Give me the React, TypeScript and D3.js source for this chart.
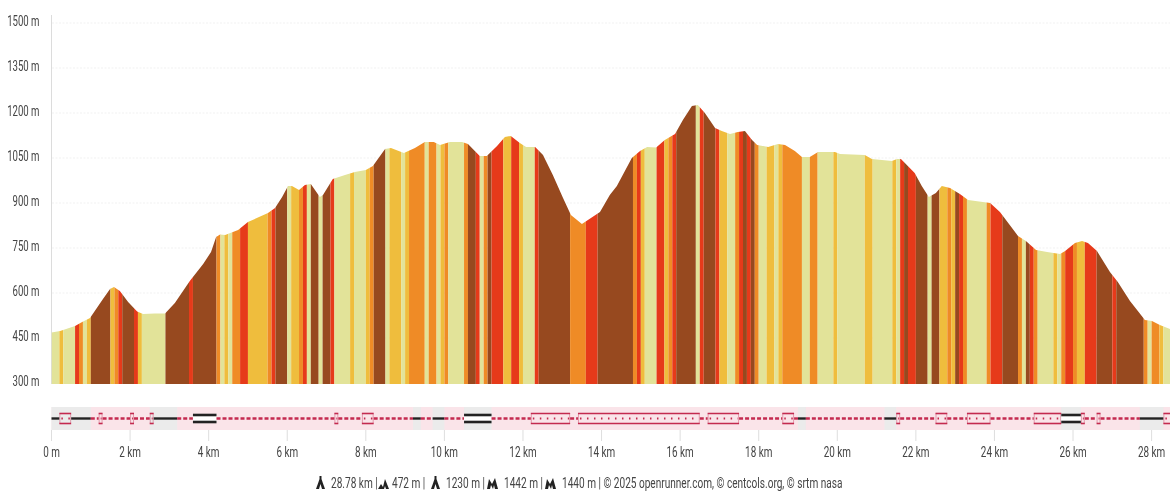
import React from "react";
import * as d3 from "d3";

// ---------- data ----------
const profileKm = [0,0.22,0.6,0.78,0.98,1.31,1.49,1.59,1.74,1.95,2.18,2.33,2.63,2.89,3.14,3.52,3.86,4.06,4.19,4.29,4.42,4.75,5.0,5.51,5.69,5.87,6.02,6.12,6.3,6.45,6.6,6.83,6.91,7.16,7.47,7.72,8.0,8.18,8.49,8.64,8.97,9.25,9.5,9.73,9.89,10.14,10.45,10.6,10.9,11.08,11.34,11.54,11.69,11.92,12.08,12.31,12.51,12.76,13.02,13.22,13.5,13.73,13.96,14.21,14.39,14.77,14.98,15.16,15.39,15.61,15.87,16.07,16.3,16.45,16.63,16.89,17.06,17.27,17.47,17.65,17.83,17.96,18.24,18.49,18.67,18.92,19.1,19.3,19.51,19.94,20.07,20.7,20.88,21.39,21.52,21.62,21.97,22.15,22.33,22.51,22.66,22.87,23.12,23.33,23.89,24.14,24.39,24.6,24.8,25.06,25.34,25.67,25.8,26.05,26.23,26.38,26.61,26.94,27.14,27.45,27.83,28.01,28.21,28.47,28.78];
const profileM = [472,477,493,507,520,583,617,623,610,573,542,533,535,535,570,643,700,740,790,798,797,813,840,870,887,923,960,960,947,963,967,923,930,983,997,1007,1013,1027,1083,1087,1070,1087,1107,1107,1097,1107,1107,1100,1060,1060,1093,1123,1127,1103,1090,1090,1063,997,920,863,833,853,873,930,960,1053,1077,1090,1088,1113,1133,1180,1227,1230,1203,1153,1143,1133,1140,1143,1113,1097,1090,1100,1097,1077,1057,1057,1073,1073,1067,1063,1050,1043,1050,1050,1003,960,923,937,960,953,933,913,903,873,830,793,777,747,740,733,743,770,777,770,743,673,640,577,513,510,497,483,472];

const bandEnds = [
  0.2,0.3,0.6,0.7,0.8,0.9,1.0,1.5,1.6,1.7,
  1.8,2.1,2.2,2.3,2.9,3.5,3.6,4.2,4.3,4.4,
  4.5,4.6,4.8,5.0,5.5,5.6,5.7,6.0,6.1,6.3,
  6.4,6.5,6.6,6.8,6.9,7.1,7.2,7.6,7.7,8.0,
  8.1,8.2,8.5,8.6,8.9,9.0,9.1,9.5,9.6,9.8,
  9.9,10.0,10.1,10.5,10.6,10.8,10.9,11.0,11.1,11.2,
  11.5,11.7,11.9,12.0,12.3,12.4,13.2,13.6,13.9,14.8,
  14.9,15.0,15.1,15.4,15.6,15.7,15.8,15.9,16.4,16.5,
  16.6,16.9,17.0,17.2,17.4,17.5,17.6,17.7,17.8,17.9,
  18.0,18.2,18.4,18.5,18.6,19.1,19.3,19.5,19.9,20.0,
  20.7,20.9,21.4,21.5,21.6,21.7,21.8,22.0,22.3,22.4,
  22.6,22.8,22.9,23.0,23.1,23.2,23.3,23.8,23.9,24.2,
  24.6,24.7,24.8,24.9,25.0,25.1,25.5,25.6,25.7,25.8,
  26.0,26.1,26.3,26.6,27.0,27.1,27.8,27.9,28.0,28.2,
  28.3,28.78,
];
const bandGrades = [
  "PYPROPYBYO",
  "RBRYPBRBOP",
  "YPORYORBPY",
  "ORPBPBRPYP",
  "YOBPYPYOPO",
  "PYOPOBRPOB",
  "RYRYPRBORB",
  "ORYPRYORBP",
  "RBRYPORBRB",
  "OPYPYOPOPY",
  "PYPYPRBRBP",
  "BYOYBROPOR",
  "BOPBROPYPO",
  "ROYRBRBOPO",
  "YP",
].join("").split("");
const gradeColors: Record<string, string> = { P: "#e2e399", Y: "#efbd3d", O: "#ef8b26", R: "#e63a1a", B: "#97491f" };

const trackEnds = [0.2,0.5,1.0,1.2,1.3,2.0,2.1,2.5,2.6,3.2,3.6,4.2,7.2,7.3,7.9,8.2,9.2,9.4,9.7,10.0,10.5,11.2,12.2,13.2,13.4,16.5,16.7,17.5,18.6,18.9,19.0,19.2,21.2,21.5,21.6,22.5,22.8,23.3,23.9,25.0,25.7,26.2,26.3,26.6,26.7,27.7,28.3,28.78];
const trackTypes = ["road","box","road","path","box","path","box","path","box","road","path","double","path","box","path","box","path","road","path","road","path","double","path","box","path","box","path","box","path","box","path","road","path","road","box","path","box","path","box","path","box","double","box","path","box","path","road","box"];
const greyStretches: [number, number][] = [[0,1.0],[2.5,3.2],[9.2,9.4],[9.7,10.0],[10.5,11.2],[19.0,19.2],[21.2,21.5],[25.7,26.2],[27.7,28.3]];

const elevationTicks = [300,450,600,750,900,1050,1200,1350,1500];
const distanceTicks = d3.range(0, 29, 2);
const formatDistance = (k: number) => (k === 0 ? "0 m" : `${k} km`);
const footerTexts = ["28.78 km |", "472 m |", "1230 m |", "1442 m |", "1440 m | © 2025 openrunner.com, © centcols.org, © srtm nasa"];

// ---------- layout ----------
const W = 1170, H = 491;
const x = d3.scaleLinear().domain([0, 28]).range([51.5, 1151.6]);
const y = d3.scaleLinear().domain([300, 1500]).range([384, 24]);
const profile = profileKm.map((k, i) => [k, profileM[i]] as [number, number]);
const areaPath = d3.area<[number, number]>().x((d) => x(d[0])).y0(y(300)).y1((d) => y(d[1])).curve(d3.curveLinear)(profile) as string;

const stripTop = 407, stripBottom = 430, mid = 418.5;
const font = "Roboto, sans-serif";
const textColor = "#444";
const crimson = "#c42a50";
const footerX = [331, 392, 446, 504, 562];

const Peak = ({ at, kind }: { at: number; kind: number }) => {
  const shapes = [
    "M0 13 L2.5 6 L3.5 3 L3.5 0 L5.5 0 L5.5 3 L6.5 6 L9 13 L6 13 L4.5 8 L3 13 Z",
    "M0 13 L3 8 L5 11 L7 3 L11 13 L8 13 L7 10 L6 13 Z",
    "M0 13 L2.5 6 L3.5 3 L3.5 0 L5.5 0 L5.5 3 L6.5 6 L9 13 L6 13 L4.5 8 L3 13 Z",
    "M0 13 L2 3 L5 8 L8 2 L11 13 L8 13 L7 9 L6 13 L4 9 L3 13 Z",
  ];
  return <path d={shapes[kind]} transform={`translate(${at},476)`} fill="#222" />;
};

const Label = ({ tx, ty, anchor, k = 0.64, children }: any) => (
  <text transform={`translate(${tx},${ty}) scale(${k},1)`} textAnchor={anchor} fontFamily={font} fontSize={15} fill={textColor}>{children}</text>
);

export default function App() {
  let prev = 0;
  const bands = bandEnds.map((end, i) => { const b = { a: prev, b: end, g: bandGrades[i] }; prev = end; return b; });
  prev = 0;
  const track = trackEnds.map((end, i) => { const s = { a: prev, b: end, t: trackTypes[i] }; prev = end; return s; });

  return (
    <svg width={W} height={H} viewBox={`0 0 ${W} ${H}`} style={{ position: "absolute", left: 0, top: 0, display: "block", background: "#fff" }}>
      <defs>
        <clipPath id="terrain"><path d={areaPath} /></clipPath>
        <clipPath id="top"><rect x={0} y={15} width={W} height={H} /></clipPath>
        <filter id="soft" x="-2%" y="-20%" width="104%" height="140%"><feGaussianBlur stdDeviation="0.45" /></filter>
      </defs>

      <g clipPath="url(#top)"><g filter="url(#soft)">
        {elevationTicks.map((v) => (
          <Label key={v} tx={39.5} ty={y(v) + 1.5} anchor="end">{`${v} m`}</Label>
        ))}
      </g></g>
      <line x1={51.5} x2={51.5} y1={15} y2={384} stroke="#dcdcdc" />
      {elevationTicks.slice(1).map((v) => (
        <line key={v} x1={52} x2={W} y1={y(v) - 1} y2={y(v) - 1} stroke="#f1f1f1" strokeDasharray="2 1.5" />
      ))}

      <g clipPath="url(#terrain)">
        {bands.map((b, i) => (
          <rect key={i} x={x(b.a)} width={x(b.b) - x(b.a)} y={y(1500)} height={y(300) - y(1500)} fill={gradeColors[b.g]} />
        ))}
      </g>

      <g filter="url(#soft)">
        <rect x={x(0)} width={W - x(0)} y={stripTop} height={stripBottom - stripTop} fill="#fae4e9" />
        {greyStretches.map(([a, b], i) => (
          <rect key={i} x={x(a)} width={x(b) - x(a)} y={stripTop} height={stripBottom - stripTop} fill="#ebebeb" />
        ))}
        {track.map((s, i) => {
          const x1 = x(s.a), x2 = x(s.b);
          if (s.t === "road") return <line key={i} x1={x1} x2={x2} y1={mid} y2={mid} stroke="#222" strokeWidth={2.4} />;
          if (s.t === "path") return <line key={i} x1={x1} x2={x2} y1={mid} y2={mid} stroke={crimson} strokeWidth={2.4} strokeDasharray="4 2" />;
          if (s.t === "double") return (
            <g key={i}>
              <rect x={x1} width={x2 - x1} y={mid - 4.5} height={9} fill="#fff" />
              <line x1={x1} x2={x2} y1={mid - 3.5} y2={mid - 3.5} stroke="#222" strokeWidth={2.6} />
              <line x1={x1} x2={x2} y1={mid + 3.5} y2={mid + 3.5} stroke="#222" strokeWidth={2.6} />
            </g>
          );
          return (
            <g key={i}>
              <line x1={x1} x2={x2} y1={mid - 5} y2={mid - 5} stroke={crimson} strokeWidth={1.6} />
              <line x1={x1} x2={x2} y1={mid + 5} y2={mid + 5} stroke={crimson} strokeWidth={1.6} />
              <line x1={x1 + 0.5} x2={x1 + 0.5} y1={mid - 5} y2={mid + 5} stroke={crimson} strokeWidth={1} strokeOpacity={0.4} />
              <line x1={x2 - 0.5} x2={x2 - 0.5} y1={mid - 5} y2={mid + 5} stroke={crimson} strokeWidth={1} strokeOpacity={0.4} />
              <line x1={x1 + 2} x2={x2 - 1} y1={mid} y2={mid} stroke={crimson} strokeWidth={2} strokeDasharray="1.5 5.5" />
            </g>
          );
        })}

        {distanceTicks.map((k) => (
          <line key={k} x1={x(k)} x2={x(k)} y1={430} y2={441} stroke="#dedede" />
        ))}
      </g>

      <g filter="url(#soft)">
        {distanceTicks.map((k) => (
          <Label key={k} tx={x(k)} ty={456.5} anchor="middle" k={0.66}>{formatDistance(k)}</Label>
        ))}

        <Peak at={316} kind={0} />
        <Peak at={378} kind={1} />
        <Peak at={431} kind={2} />
        <Peak at={487} kind={3} />
        <Peak at={545} kind={3} />
        {footerTexts.map((s, i) => (
          <Label key={s} tx={footerX[i]} ty={487.5} anchor="start" k={0.672}>{s}</Label>
        ))}
      </g>
    </svg>
  );
}
